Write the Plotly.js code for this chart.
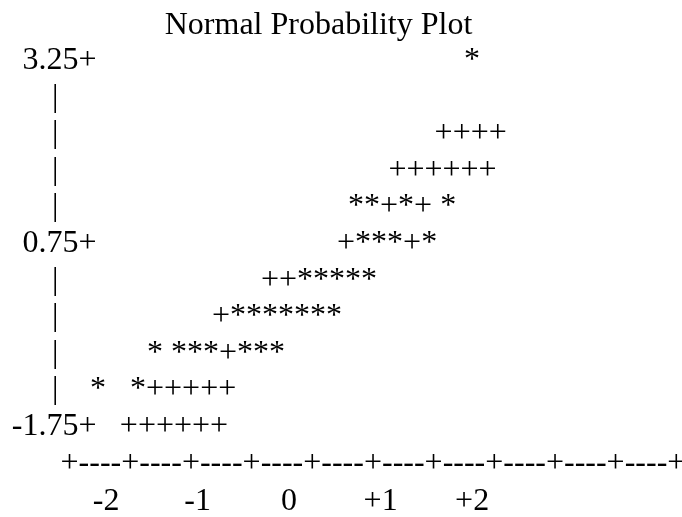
<!DOCTYPE html>
<html>
<head>
<meta charset="utf-8">
<script src="https://cdn.plot.ly/plotly-3.0.1.min.js"></script>
<style>
html,body{margin:0;padding:0;background:#fff;}
#chart{width:682px;height:517px;}
#chart svg text{-webkit-font-smoothing:antialiased;}
#chart .main-svg{will-change:transform;}
</style>
</head>
<body>
<div id="chart"></div>
<script>
// Rows of the text plot (response value of each print line)
const rowValues = [3.25, 2.75, 2.25, 1.75, 1.25, 0.75, 0.25, -0.25, -0.75, -1.25, -1.75];
// Left axis column: labelled rows and bar rows
const rowLabels = ['3.25+', '|', '|', '|', '|', '0.75+', '|', '|', '|', '|', '-1.75+'];
// Plotted symbols on each row (* = data, + = reference line)
const rowMarks = ['*', '', '++++', '++++++', '**+*+\u00a0*', '+***+*', '++*****', '+*******', '*\u00a0***+***', '*\u00a0\u00a0\u00a0*+++++', '++++++'];
// Normal quantile where each row's symbols begin
const rowStarts = [1.911, null, 1.59, 1.085, 0.644, 0.524, -0.307, -0.843, -1.553, -2.176, -1.85];
// Horizontal axis
const axisRowValue = -2.25;
const axisStart = -2.498;
const axisText = '+----+----+----+----+----+----+----+----+----+----+';
const tickVals = [-2, -1, 0, 1, 2];
const tickText = ['-2', '-1', '0', '+1', '+2'];
// Left column anchor positions (normal quantile units)
const labelRight = -2.105;
const barCenter = -2.558;

const FONT = 'Liberation Serif, Times New Roman, Times, serif';
const FS = 32;

const labX = [], labY = [], labT = [];
const barX = [], barY = [], barT = [];
rowLabels.forEach((t, i) => {
  if (t === '|') { barX.push(barCenter); barY.push(rowValues[i]); barT.push(t); }
  else { labX.push(labelRight); labY.push(rowValues[i]); labT.push(t); }
});
const mX = [], mY = [], mT = [];
rowMarks.forEach((t, i) => {
  if (t && rowStarts[i] !== null) { mX.push(rowStarts[i]); mY.push(rowValues[i]); mT.push(t); }
});

const tf = {family: FONT, size: FS, color: '#000'};
const traces = [
  {x: labX, y: labY, text: labT, mode: 'text', textposition: 'middle left', textfont: tf, hoverinfo: 'skip', cliponaxis: false},
  {x: barX, y: barY, text: barT, mode: 'text', textposition: 'middle center', textfont: tf, hoverinfo: 'skip', cliponaxis: false},
  {x: mX, y: mY, text: mT, mode: 'text', textposition: 'middle right', textfont: tf, hoverinfo: 'skip', cliponaxis: false},
  {x: [axisStart], y: [axisRowValue], text: [axisText], mode: 'text', textposition: 'middle right', textfont: tf, hoverinfo: 'skip', cliponaxis: false}
];

const layout = {
  width: 682, height: 517,
  margin: {l: 0, r: 0, t: 0, b: 40, pad: 0},
  paper_bgcolor: '#fff', plot_bgcolor: '#fff',
  showlegend: false,
  title: {text: 'Normal Probability Plot', font: {family: FONT, size: FS, color: '#000'},
          x: 318.5 / 682, xanchor: 'center', xref: 'paper', y: 1 - 23 / 517, yanchor: 'middle', yref: 'container'},
  xaxis: {range: [-3.160, 4.294], tickvals: tickVals, ticktext: tickText, ticks: '', showgrid: false,
          zeroline: false, showline: false, tickfont: {family: FONT, size: FS, color: '#000'}, fixedrange: true},
  yaxis: {range: [-2.4331, 4.0833], visible: false, showgrid: false, zeroline: false, fixedrange: true}
};

Plotly.newPlot('chart', traces, layout, {displayModeBar: false, staticPlot: true});
</script>
</body>
</html>
